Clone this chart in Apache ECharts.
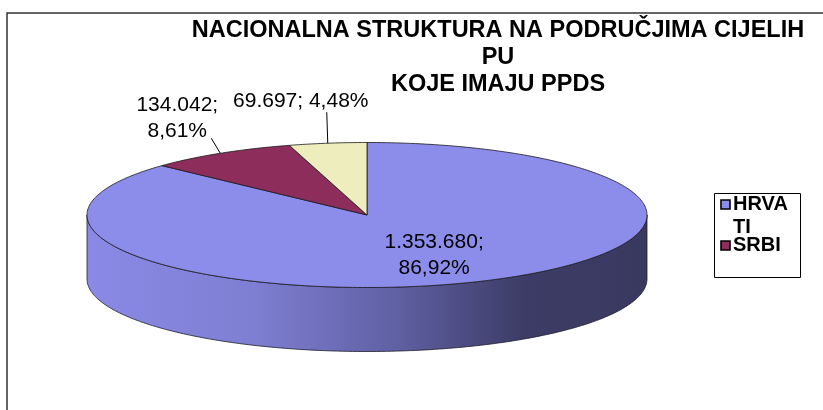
<!DOCTYPE html>
<html>
<head>
<meta charset="utf-8">
<script src="https://cdn.jsdelivr.net/npm/echarts@6/dist/echarts.min.js"></script>
<style>
  html, body { margin: 0; padding: 0; background: #fff; }
  #chart { width: 823px; height: 410px; }
</style>
</head>
<body>
<div id="chart"></div>
<script>
// data
const categories = ["HRVATI", "SRBI", "OSTALI"];
const values = [1353680, 134042, 69697];
const legendNames = ["HRVATI", "SRBI"];

const colors = ["#8C8CEB", "#8C2D5C", "#EDEDBD"];
const FONT = "'Liberation Sans', Arial, sans-serif";

// pie layout (pseudo 3D, Excel style)
const pie = { cx: 367, cy: 215, rx: 280, ry: 72.5, depth: 64 };
// label placement per slice: inside = on the top face, otherwise outside with leader
const labelLayout = [
  { inside: true, r: 0.6 },
  { inside: false, line: [-9, -15], text: [-43, -35] },
  { inside: false, line: [-1, -31], text: [-27, -42] },
];

const total = values.reduce((a, b) => a + b, 0);

function fmtNum(v) {
  return String(v).replace(/\B(?=(\d{3})+(?!\d))/g, ".");
}
function fmtPct(v) {
  return (v / total * 100).toFixed(2).replace(".", ",") + "%";
}

function pt(deg, r, dz) {
  const t = deg * Math.PI / 180;
  return [pie.cx + pie.rx * r * Math.cos(t), pie.cy - pie.ry * r * Math.sin(t) + (dz || 0)];
}
function arc(from, to, dz) {
  const pts = [];
  const n = Math.max(2, Math.ceil(Math.abs(to - from)));
  for (let k = 0; k <= n; k++) pts.push(pt(from + (to - from) * k / n, 1, dz));
  return pts;
}

const wallFill = new echarts.graphic.LinearGradient(pie.cx - pie.rx, 0, pie.cx + pie.rx, 0, [
  { offset: 0, color: "#8A8AE6" },
  { offset: 0.3, color: "#7E7ED2" },
  { offset: 0.55, color: "#6060A4" },
  { offset: 0.78, color: "#3C3C66" },
  { offset: 1, color: "#393960" },
], true);

function renderSlice(params, api) {
  const i = params.seriesIndex;
  let before = 0;
  for (let j = 0; j < i; j++) before += values[j];
  const v = api.value(0);
  // clockwise from 12 o'clock
  const a0 = 90 - 360 * before / total;
  const a1 = 90 - 360 * (before + v) / total;
  const children = [];

  // front wall: visible part lies between -180 and 0 degrees
  const lo = Math.max(a1, -180), hi = Math.min(a0, 0);
  if (hi > lo) {
    const top = arc(hi, lo, 0);
    const bottom = arc(lo, hi, pie.depth);
    children.push({
      type: "polygon",
      shape: { points: top.concat(bottom) },
      style: { fill: wallFill, stroke: "#1E1E2E", lineWidth: 0.8 },
    });
  }

  // top face
  children.push({
    type: "polygon",
    shape: { points: [[pie.cx, pie.cy]].concat(arc(a0, a1, 0)) },
    style: { fill: colors[i], stroke: "#1A1A1A", lineWidth: 0.8 },
  });

  // label
  const mid = (a0 + a1) / 2;
  const lay = labelLayout[i];
  if (lay.inside) {
    const p = pt(mid, lay.r, 0);
    children.push({
      type: "text",
      style: {
        x: p[0], y: p[1],
        text: fmtNum(v) + ";\n" + fmtPct(v),
        font: "21px " + FONT, fill: "#000",
        align: "center", verticalAlign: "middle", lineHeight: 26,
      },
    });
  } else {
    const e = pt(mid, 1, 0);
    children.push({
      type: "line",
      shape: { x1: e[0], y1: e[1], x2: e[0] + lay.line[0], y2: e[1] + lay.line[1] },
      style: { stroke: "#000", lineWidth: 1 },
    });
    const txt = i === 1
      ? fmtNum(v) + ";\n" + fmtPct(v)
      : fmtNum(v) + "; " + fmtPct(v);
    children.push({
      type: "text",
      style: {
        x: e[0] + lay.text[0], y: e[1] + lay.text[1],
        text: txt,
        font: "21px " + FONT, fill: "#000",
        align: "center", verticalAlign: "middle", lineHeight: 26,
      },
    });
  }
  return { type: "group", children: children };
}

// legend drawn by hand so the wrapped name keeps its marker on the first line
const legendGraphics = [
  {
    type: "rect",
    shape: { x: 714.5, y: 193.5, width: 86, height: 84 },
    style: { fill: "#fff", stroke: "#000", lineWidth: 1 },
  },
];
const legendRows = [200, 241];
legendNames.forEach((name, k) => {
  const idx = categories.indexOf(name);
  legendGraphics.push({
    type: "rect",
    shape: { x: 721, y: legendRows[k], width: 9, height: 9 },
    style: { fill: colors[idx], stroke: "#000", lineWidth: 1.6 },
  });
  legendGraphics.push({
    type: "text",
    style: {
      x: 733, y: legendRows[k] - 7,
      text: name, width: 60, overflow: "breakAll",
      font: "bold 20px " + FONT, fill: "#000", lineHeight: 23,
    },
  });
});

const chart = echarts.init(document.getElementById("chart"));
chart.setOption({
  animation: false,
  backgroundColor: "#fff",
  title: {
    text: "NACIONALNA STRUKTURA NA PODRUČJIMA CIJELIH\nPU\nKOJE IMAJU PPDS",
    left: 498,
    textAlign: "center",
    top: 17,
    padding: 0,
    textStyle: {
      fontFamily: FONT,
      fontSize: 23.5,
      fontWeight: "bold",
      color: "#000",
      lineHeight: 27,
    },
  },
  graphic: [
    {
      type: "rect",
      shape: { x: 7, y: 13, width: 840, height: 420 },
      style: { fill: "none", stroke: "#333", lineWidth: 1.5 },
      z: 0,
    },
  ].concat(legendGraphics),
  series: categories.map((name, i) => ({
    type: "custom",
    name: name,
    coordinateSystem: "none",
    renderItem: renderSlice,
    data: [values[i]],
    z: 2,
  })),
});
</script>
</body>
</html>
